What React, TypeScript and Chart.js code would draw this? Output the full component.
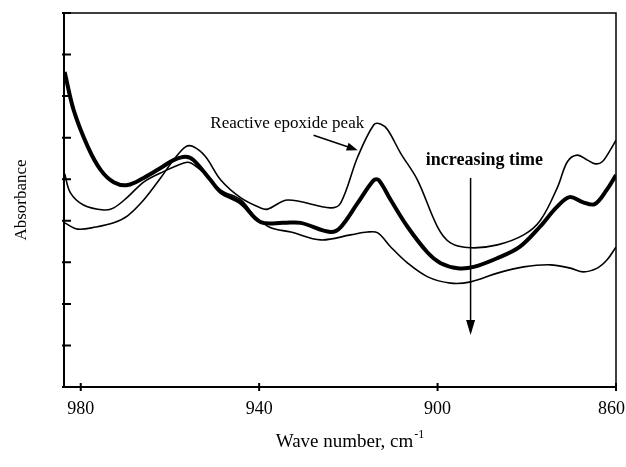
import { useEffect, useRef } from "react";
import { Chart, registerables } from "chart.js";

Chart.register(...registerables);

const FONT = '"Liberation Serif", "Times New Roman", Times, serif';

// Wave numbers (cm-1) and absorbance readings for the three spectra
const WN_EARLY = [983.6, 980.7, 976.6, 972.6, 969.5, 965.9, 962.1, 959.2, 956.5, 954.7, 952.0, 948.6, 944.1, 939.7, 938.1, 933.6, 924.0, 921.7, 917.9, 914.3, 912.8, 911.2, 908.3, 904.5, 900.0, 897.1, 892.6, 886.6, 880.7, 876.9, 873.1, 870.9, 868.7, 866.4, 864.6, 863.1, 861.3, 860.0];
const ABS_EARLY = [3.95, 3.80, 3.85, 3.95, 4.12, 4.50, 5.03, 5.46, 5.78, 5.78, 5.54, 4.98, 4.55, 4.31, 4.28, 4.50, 4.31, 4.43, 5.54, 6.31, 6.33, 6.19, 5.63, 4.98, 3.85, 3.47, 3.35, 3.42, 3.66, 4.02, 4.81, 5.42, 5.58, 5.46, 5.37, 5.42, 5.70, 5.94];

const WN_MID = [983.6, 981.6, 978.4, 975.5, 972.6, 969.5, 965.9, 962.1, 959.2, 956.5, 954.7, 950.9, 948.6, 944.1, 939.7, 934.5, 930.7, 924.0, 921.7, 917.9, 914.3, 913.2, 910.5, 906.7, 902.2, 899.3, 895.5, 891.9, 886.6, 881.6, 877.1, 873.3, 870.4, 867.5, 864.8, 862.1, 860.0];
const ABS_MID = [7.58, 6.67, 5.78, 5.22, 4.93, 4.86, 5.03, 5.27, 5.46, 5.54, 5.46, 4.98, 4.69, 4.43, 3.97, 3.95, 3.95, 3.73, 3.85, 4.43, 4.98, 4.98, 4.50, 3.85, 3.23, 2.98, 2.86, 2.89, 3.10, 3.37, 3.85, 4.33, 4.57, 4.45, 4.40, 4.74, 5.10];

const WN_LATE = [983.6, 982.3, 979.4, 974.8, 972.6, 969.5, 965.9, 962.1, 956.9, 955.3, 952.4, 948.6, 944.1, 940.8, 937.4, 932.9, 926.2, 919.5, 915.7, 913.4, 910.5, 906.7, 902.2, 897.1, 892.6, 886.6, 880.7, 874.7, 870.2, 867.3, 864.2, 862.0, 860.0];
const ABS_LATE = [5.13, 4.67, 4.38, 4.26, 4.31, 4.57, 4.93, 5.15, 5.39, 5.39, 5.15, 4.74, 4.50, 4.09, 3.83, 3.73, 3.54, 3.66, 3.73, 3.71, 3.37, 2.98, 2.65, 2.50, 2.53, 2.74, 2.89, 2.94, 2.86, 2.77, 2.86, 3.06, 3.37];

const X_TICKS = [980, 940, 900, 860];
const X_TICK_LABELS = ["980", "940", "900", "860"];
const Y_TICKS = [0, 1, 2, 3, 4, 5, 6, 7, 8, 9];
const X_MIN = 860;
const X_MAX = 983.75;

const X_TITLE = "Wave number, cm";
const X_TITLE_SUP = "-1";
const Y_TITLE = "Absorbance";
const NOTE_PEAK = "Reactive epoxide peak";
const NOTE_TIME = "increasing time";

// annotation anchors in data units (wave number, absorbance)
const PEAK_TEXT_AT = [933.7, 6.23];
const PEAK_ARROW = [927.8, 6.06, 917.9, 5.70];
const TIME_TEXT_AT = [889.5, 5.34];
const TIME_ARROW = [892.6, 5.03, 1.25];

function toPoints(xs: number[], ys: number[]) {
  return xs.map((x, i) => ({ x, y: ys[i] }));
}

function arrowHead(ctx: CanvasRenderingContext2D, x0: number, y0: number, x1: number, y1: number, len: number, half: number) {
  const a = Math.atan2(y1 - y0, x1 - x0);
  const bx = x1 - len * Math.cos(a);
  const by = y1 - len * Math.sin(a);
  ctx.beginPath();
  ctx.moveTo(x1, y1);
  ctx.lineTo(bx + half * Math.sin(a), by - half * Math.cos(a));
  ctx.lineTo(bx - half * Math.sin(a), by + half * Math.cos(a));
  ctx.closePath();
  ctx.fill();
}

const overlay = {
  id: "overlay",
  afterDatasetsDraw(chart: any) {
    const { ctx, chartArea, width } = chart;
    const { left, right, top, bottom } = chartArea;
    const xs = chart.scales.x;
    const ys = chart.scales.y;
    ctx.save();
    ctx.strokeStyle = "#000";
    ctx.fillStyle = "#000";
    ctx.lineCap = "butt";

    // frame
    ctx.lineWidth = 1.5;
    ctx.beginPath();
    ctx.moveTo(left, top);
    ctx.lineTo(right, top);
    ctx.lineTo(right, bottom);
    ctx.stroke();
    ctx.lineWidth = 2;
    ctx.beginPath();
    ctx.moveTo(left, top);
    ctx.lineTo(left, bottom);
    ctx.lineTo(right, bottom);
    ctx.stroke();

    // ticks
    ctx.lineWidth = 2;
    ctx.beginPath();
    Y_TICKS.forEach((v) => {
      const py = ys.getPixelForValue(v);
      ctx.moveTo(left - 2, py);
      ctx.lineTo(left + 7, py);
    });
    X_TICKS.forEach((v) => {
      const px = xs.getPixelForValue(v);
      ctx.moveTo(px, bottom - 4);
      ctx.lineTo(px, bottom + 4);
    });
    ctx.stroke();

    // x tick labels
    ctx.font = `18px ${FONT}`;
    ctx.textAlign = "center";
    ctx.textBaseline = "middle";
    X_TICKS.forEach((v, i) => {
      const label = X_TICK_LABELS[i];
      const w = ctx.measureText(label).width;
      const px = Math.min(xs.getPixelForValue(v), width - 1 - w / 2);
      ctx.fillText(label, px, bottom + 22);
    });

    // peak note
    ctx.font = `17px ${FONT}`;
    ctx.textAlign = "center";
    ctx.textBaseline = "alphabetic";
    ctx.fillText(NOTE_PEAK, xs.getPixelForValue(PEAK_TEXT_AT[0]), ys.getPixelForValue(PEAK_TEXT_AT[1]));
    const ax0 = xs.getPixelForValue(PEAK_ARROW[0]);
    const ay0 = ys.getPixelForValue(PEAK_ARROW[1]);
    const ax1 = xs.getPixelForValue(PEAK_ARROW[2]);
    const ay1 = ys.getPixelForValue(PEAK_ARROW[3]);
    const ang = Math.atan2(ay1 - ay0, ax1 - ax0);
    ctx.lineWidth = 1.5;
    ctx.beginPath();
    ctx.moveTo(ax0, ay0);
    ctx.lineTo(ax1 - 6 * Math.cos(ang), ay1 - 6 * Math.sin(ang));
    ctx.stroke();
    arrowHead(ctx, ax0, ay0, ax1, ay1, 11, 4);

    // time note
    ctx.font = `bold 18px ${FONT}`;
    ctx.fillText(NOTE_TIME, xs.getPixelForValue(TIME_TEXT_AT[0]), ys.getPixelForValue(TIME_TEXT_AT[1]));
    const tx = xs.getPixelForValue(TIME_ARROW[0]);
    const ty0 = ys.getPixelForValue(TIME_ARROW[1]);
    const ty1 = ys.getPixelForValue(TIME_ARROW[2]);
    ctx.lineWidth = 1.5;
    ctx.beginPath();
    ctx.moveTo(tx, ty0);
    ctx.lineTo(tx, ty1 - 8);
    ctx.stroke();
    arrowHead(ctx, tx, ty0, tx, ty1, 15, 4.5);

    // x title with superscript
    ctx.font = `19px ${FONT}`;
    const w1 = ctx.measureText(X_TITLE).width;
    ctx.font = `12px ${FONT}`;
    const w2 = ctx.measureText(X_TITLE_SUP).width;
    const cx = (left + right) / 2 + 10;
    const startX = cx - (w1 + w2 + 1) / 2;
    const baseY = bottom + 60;
    ctx.textAlign = "left";
    ctx.font = `19px ${FONT}`;
    ctx.fillText(X_TITLE, startX, baseY);
    ctx.font = `12px ${FONT}`;
    ctx.fillText(X_TITLE_SUP, startX + w1 + 1, baseY - 9);
    ctx.restore();
  },
};

export default function App() {
  const ref = useRef<HTMLCanvasElement | null>(null);
  useEffect(() => {
    document.body.style.margin = "0";
    if (!ref.current) return;
    const lineDs = (label: string, xs: number[], ys: number[], w: number) => ({
      label,
      data: toPoints(xs, ys),
      borderColor: "#000",
      backgroundColor: "#000",
      borderWidth: w,
      pointRadius: 0,
      tension: 0.35,
      fill: false,
    });
    const chart = new Chart(ref.current, {
      type: "line",
      data: {
        datasets: [
          lineDs("early", WN_EARLY, ABS_EARLY, 1.6),
          lineDs("mid", WN_MID, ABS_MID, 4),
          lineDs("late", WN_LATE, ABS_LATE, 1.6),
        ],
      },
      plugins: [overlay],
      options: {
        animation: false,
        responsive: true,
        maintainAspectRatio: false,
        layout: { padding: { top: 13, right: 10, left: 0, bottom: 0 } },
        plugins: { legend: { display: false }, tooltip: { enabled: false } },
        scales: {
          x: {
            type: "linear",
            reverse: true,
            min: X_MIN,
            max: X_MAX,
            afterBuildTicks: (s: any) => {
              s.ticks = X_TICKS.map((v) => ({ value: v }));
            },
            afterFit: (s: any) => {
              s.height = 80;
              s.paddingLeft = 0;
              s.paddingRight = 0;
            },
            grid: { display: false, drawTicks: false },
            border: { display: false },
            ticks: { display: false },
          },
          y: {
            type: "linear",
            min: 0,
            max: 9,
            afterFit: (s: any) => {
              s.width = 64;
              s.paddingTop = 0;
              s.paddingBottom = 0;
            },
            grid: { display: false, drawTicks: false },
            border: { display: false },
            ticks: { display: false, stepSize: 1 },
            title: {
              display: true,
              text: Y_TITLE,
              color: "#000",
              font: { family: FONT, size: 17 },
              padding: { top: 11, bottom: 0 },
            },
          },
        },
      },
    });
    return () => chart.destroy();
  }, []);
  return (
    <div style={{ width: 626, height: 467, position: "relative" }}>
      <canvas ref={ref} />
    </div>
  );
}
